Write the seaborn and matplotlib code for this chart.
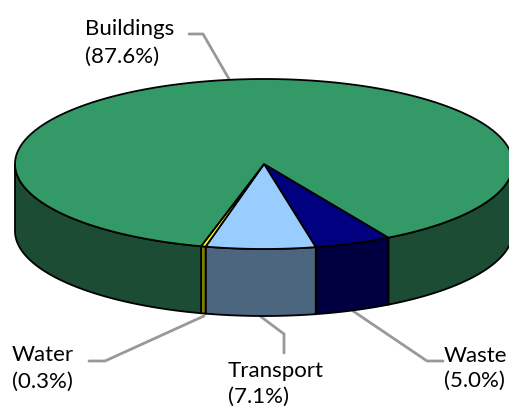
import numpy as np
import matplotlib
matplotlib.use("Agg")
import matplotlib.pyplot as plt
import seaborn as sns

# shares in percent, clockwise starting at the waste slice
categories = ["Waste", "Transport", "Water", "Buildings"]
shares = [5.0, 7.1, 0.3, 87.6]
top_colors = ["#000080", "#99CCFF", "#FFFF00", "#339966"]
side_colors = ["#000040", "#4D6680", "#808000", "#1C4C33"]

# pie geometry in image pixels
cx, cy, rx, ry, depth = 264, 164, 249, 85, 67
start_angle = 60  # degrees clockwise from east

sns.set_style("white")
plt.rcParams["font.family"] = ["Lato", "DejaVu Sans"]

fig = plt.figure(figsize=(5.1, 4.08), dpi=100)
ax = fig.add_axes([0, 0, 1, 1])
ax.set_xlim(0, 510)
ax.set_ylim(408, 0)
ax.axis("off")


def arc(a0, a1, dy=0):
    t = np.radians(np.linspace(a0, a1, int(abs(a1 - a0) * 3) + 2))
    return cx + rx * np.cos(t), cy + dy + ry * np.sin(t)


def draw_wall(a0, a1, color):
    x, y = arc(a0, a1)
    xb, yb = arc(a1, a0, depth)
    ax.fill(np.r_[x, xb], np.r_[y, yb], facecolor=color, edgecolor="black", lw=1.3, zorder=2)


edges = start_angle + np.r_[0, np.cumsum(shares)] * 3.6
for i, name in enumerate(categories):
    a0, a1 = edges[i], edges[i + 1]
    # only the front half of the rim shows
    if a0 < 180:
        draw_wall(a0, min(a1, 180), side_colors[i])
    if a1 > 360:
        draw_wall(360, a1, side_colors[i])
    x, y = arc(a0, a1)
    ax.fill(np.r_[cx, x], np.r_[cy, y], facecolor=top_colors[i], edgecolor="black", lw=1.3, zorder=3)

# leader lines
leaders = [
    ([189, 203, 229], [34, 34, 79]),
    ([89, 105, 204], [361, 361, 316]),
    ([260, 284, 284], [316, 334, 353]),
    ([353, 427, 443], [311, 361, 361]),
]
for lx, ly in leaders:
    ax.plot(lx, ly, color="#999999", lw=2.0, zorder=1, solid_joinstyle="miter")

# labels, one entry per line of text
label_texts = ["Buildings", "(87.6%)", "Water", "(0.3%)", "Transport", "(7.1%)", "Waste", "(5.0%)"]
label_x = [85, 85, 12, 12, 228, 228, 444, 444]
label_y = [35, 63, 361, 388, 377, 403, 362, 387]
for s, x, y in zip(label_texts, label_x, label_y):
    ax.text(x, y, s, fontsize=16, color="black", ha="left", va="baseline", zorder=4)

fig.savefig("out.png", dpi=100)
